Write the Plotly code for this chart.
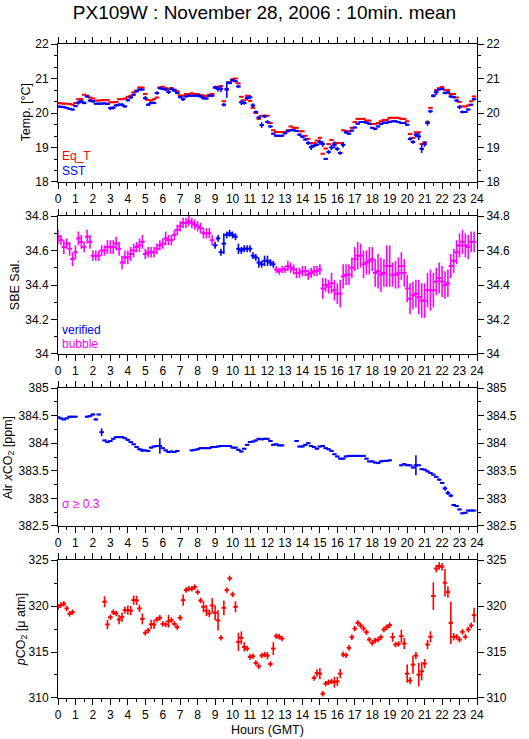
import plotly.graph_objects as go

# ---------------- data (10-minute slots, 0..24 h GMT) ----------------
N_SLOTS = 144
SLOT_H = 1 / 6
HOURS = [k * SLOT_H for k in range(N_SLOTS)]
HOUR_TICKS = list(range(0, 25))

EQ_T = [
    20.29, 20.28, 20.27, 20.27, 20.26, 20.24,
    20.29, 20.40, 20.40, 20.53, 20.50, 20.45,
    20.42, 20.36, 20.36, 20.37, 20.37, 20.38,
    20.31, 20.31, 20.32, 20.40, 20.40, 20.42,
    20.47, 20.50, 20.60, 20.65, 20.74, 20.74,
    20.55, 20.38, 20.36, 20.40, 20.45, 20.74,
    20.76, 20.72, 20.70, 20.72, 20.68, 20.63,
    20.51, 20.50, 20.55, 20.55, 20.57, 20.55,
    20.55, 20.52, 20.50, 20.50, 20.53, 20.55,
    20.74, 20.76, 20.78, 20.34, 20.70, 20.90,
    20.98, 21.00, 20.86, 20.47, 20.37, 20.50,
    20.35, 20.15, 20.00, 19.83, 19.92, 19.92,
    19.92, 19.71, 19.50, 19.45, 19.45, 19.45,
    19.45, 19.50, 19.61, 19.57, 19.57, 19.47,
    19.47, 19.34, 19.25, 19.13, 19.13, 19.20,
    19.28, 18.82, 18.97, 19.10, 19.22, 19.12,
    19.13, 19.13, 19.50, 19.47, 19.47, 19.57,
    19.74, 19.83, 19.83, 19.83, 19.78, 19.78,
    19.68, 19.68, 19.71, 19.76, 19.80, 19.80,
    19.86, 19.86, 19.86, 19.86, 19.83, 19.83,
    19.76, 19.39, 19.28, 19.44, 19.44, 19.10,
    19.15, 19.74, 20.15, 20.50, 20.66, 20.72,
    20.75, 20.67, 20.67, 20.55, 20.55, 20.45,
    20.32, 20.19, 20.19, 20.22, 20.34, 20.48,
]
EQ_T_ERR = 0.015

SST = [
    20.19, 20.18, 20.17, 20.15, 20.12, 20.10,
    20.20, 20.30, 20.34, 20.29, 20.48, 20.36,
    20.34, 20.27, 20.27, 20.27, 20.28, 20.26,
    20.14, 20.15, 20.22, 20.24, 20.24, 20.19,
    20.37, 20.45, 20.53, 20.63, 20.68, 20.68,
    20.43, 20.24, 20.29, 20.29, 20.58, 20.72,
    20.70, 20.68, 20.61, 20.70, 20.65, 20.58,
    20.46, 20.40, 20.48, 20.50, 20.50, 20.50,
    20.50, 20.48, 20.43, 20.42, 20.50, 20.50,
    20.74, 20.70, 20.70, 20.24, 20.68, 20.87,
    20.95, 20.92, 20.77, 20.31, 20.29, 20.43,
    20.46, 20.22, 20.03, 19.87, 19.65, 19.90,
    19.74, 19.61, 19.40, 19.34, 19.34, 19.34,
    19.41, 19.47, 19.50, 19.50, 19.48, 19.37,
    19.31, 19.23, 19.13, 19.01, 19.05, 19.08,
    19.16, 19.10, 18.67, 18.87, 19.00, 19.08,
    18.96, 18.84, 19.08, 19.44, 19.40, 19.49,
    19.58, 19.69, 19.74, 19.74, 19.72, 19.69,
    19.57, 19.54, 19.61, 19.68, 19.72, 19.72,
    19.74, 19.76, 19.76, 19.74, 19.71, 19.71,
    19.66, 19.25, 19.16, 19.37, 19.32, 18.96,
    19.10, 19.71, 20.05, 20.50, 20.60, 20.68,
    20.70, 20.58, 20.60, 20.48, 20.46, 20.36,
    20.17, 20.03, 20.03, 20.10, 20.24, 20.40,
]
SST_ERR = [
    .03, .03, .03, .03, .03, .03,
    .03, .06, .05, .04, .04, .05,
    .04, .03, .03, .03, .03, .03,
    .05, .05, .04, .04, .05, .04,
    .04, .04, .04, .04, .03, .03,
    .06, .04, .04, .04, .05, .04,
    .04, .04, .06, .04, .04, .04,
    .04, .05, .04, .03, .03, .03,
    .03, .04, .05, .04, .04, .03,
    .05, .08, .10, .05, .24, .04,
    .04, .04, .05, .08, .05, .05,
    .06, .06, .04, .05, .08, .05,
    .05, .04, .03, .03, .03, .03,
    .03, .03, .03, .03, .03, .04,
    .04, .04, .06, .08, .05, .04,
    .07, .08, .03, .06, .08, .10,
    .06, .05, .08, .05, .03, .03,
    .03, .03, .03, .03, .03, .03,
    .03, .03, .03, .03, .03, .03,
    .03, .03, .03, .03, .03, .03,
    .03, .05, .05, .08, .10, .12,
    .08, .08, .05, .05, .08, .03,
    .03, .04, .04, .04, .04, .04,
    .06, .04, .03, .03, .03, .04,
]

SAL = [
    34.68, 34.66, 34.62, 34.64, 34.61, 34.55,
    34.59, 34.67, 34.65, 34.62, 34.68, 34.65,
    34.57, 34.57, 34.57, 34.60, 34.60, 34.62,
    34.62, 34.62, 34.64, 34.61, 34.53, 34.56,
    34.56, 34.58, 34.60, 34.62, 34.63, 34.65,
    34.58, 34.59, 34.59, 34.59, 34.61, 34.63,
    34.64, 34.67, 34.66, 34.66, 34.69, 34.72,
    34.74, 34.76, 34.76, 34.77, 34.76, 34.75,
    34.74, 34.73, 34.70, 34.70, 34.70, 34.66,
    34.63, 34.67, 34.59, 34.64, 34.69, 34.70,
    34.69, 34.68, 34.61, 34.60, 34.61, 34.61,
    34.61, 34.57, 34.56, 34.53, 34.52, 34.54,
    34.54, 34.53, 34.52, 34.49, 34.48, 34.49,
    34.49, 34.51, 34.50, 34.49, 34.47, 34.47,
    34.48, 34.48, 34.46, 34.47, 34.48, 34.48,
    34.49, 34.38, 34.40, 34.39, 34.41, 34.37,
    34.35, 34.35, 34.45, 34.46, 34.46, 34.50,
    34.55, 34.57, 34.57, 34.52, 34.53, 34.54,
    34.55, 34.47, 34.48, 34.46, 34.47, 34.51,
    34.51, 34.46, 34.46, 34.47, 34.51, 34.47,
    34.38, 34.32, 34.34, 34.35, 34.33, 34.31,
    34.31, 34.37, 34.37, 34.37, 34.42, 34.44,
    34.42, 34.40, 34.41, 34.51, 34.54, 34.59,
    34.63, 34.65, 34.63, 34.62, 34.65, 34.65,
]
SAL_ERR = [
    .04, .03, .04, .03, .04, .04,
    .04, .04, .04, .03, .04, .04,
    .03, .03, .03, .03, .03, .04,
    .04, .04, .04, .04, .04, .04,
    .04, .04, .04, .03, .04, .04,
    .03, .03, .03, .03, .03, .03,
    .03, .04, .03, .03, .03, .03,
    .03, .03, .03, .03, .03, .03,
    .03, .03, .03, .03, .03, .03,
    .02, .02, .02, .06, .02, .02,
    .02, .02, .03, .02, .02, .02,
    .02, .02, .02, .03, .02, .03,
    .03, .02, .02, .02, .02, .02,
    .02, .03, .03, .03, .03, .03,
    .03, .03, .03, .03, .03, .03,
    .03, .06, .04, .04, .06, .06,
    .06, .08, .07, .06, .06, .06,
    .07, .08, .07, .08, .07, .08,
    .07, .08, .10, .10, .08, .12,
    .12, .07, .08, .09, .08, .08,
    .08, .09, .08, .08, .10, .10,
    .10, .10, .12, .10, .08, .09,
    .09, .08, .08, .07, .07, .07,
    .07, .07, .07, .07, .06, .06,
]
SAL_VERIFIED_SLOTS = range(54, 75)   # 09:00 - 12:20 verified, rest flagged "bubble"

XCO2 = [
    384.47, 384.45, 384.43, 384.45, 384.48, 384.48,
    384.48, None, None, None, 384.48, 384.49,
    384.52, 384.43, 384.52, 384.20, 384.05, 384.02,
    384.04, 384.08, 384.11, 384.11, 384.11, 384.09,
    384.06, 384.02, 383.98, 383.93, 383.89, 383.87,
    383.87, 383.86, 383.92, 383.94, 383.95, 383.95,
    383.91, 383.87, 383.84, 383.85, 383.84, 383.86,
    None, None, None, None, 383.87, 383.88,
    383.89, 383.91, 383.91, 383.91, 383.91, 383.93,
    383.93, 383.94, 383.95, 383.95, 383.95, 383.95,
    383.92, 383.92, 383.88, 383.85, 383.90, 383.97,
    384.02, 384.03, 384.05, 384.08, 384.07, 384.08,
    384.08, 384.04, 383.97, 383.98, 383.96, 383.96,
    None, None, None, None, 384.04, 383.94,
    383.94, 383.97, 384.00, 383.95, 383.93, 383.90,
    383.94, 383.95, 383.91, 383.89, 383.86, 383.80,
    383.76, 383.72, 383.72, 383.76, 383.77, 383.77,
    383.77, 383.77, 383.77, 383.77, 383.72, 383.67,
    383.67, 383.65, 383.64, 383.67, 383.68, 383.68,
    383.69, None, None, None, 383.60, 383.62,
    383.60, 383.60, 383.56, 383.60, 383.60, 383.53,
    383.52, 383.49, 383.46, 383.43, 383.39, 383.34,
    383.28, 383.18, 383.10, 383.05, 382.88, 382.86,
    382.80, 382.73, 382.74, 382.78, 382.78, 382.78,
]
XCO2_ERR = [
    .015, .015, .015, .015, .015, .015,
    .015, 0, 0, 0, .015, .015,
    .02, .02, .015, .07, .015, .015,
    .015, .015, .015, .015, .015, .015,
    .015, .015, .015, .015, .02, .03,
    .015, .015, .015, .015, .015, .14,
    .015, .015, .015, .015, .015, .015,
    0, 0, 0, 0, .015, .015,
    .015, .015, .015, .015, .015, .015,
    .015, .015, .015, .015, .015, .015,
    .015, .015, .02, .02, .015, .015,
    .015, .015, .015, .015, .015, .015,
    .015, .015, .02, .015, .015, .015,
    0, 0, 0, 0, .015, .015,
    .015, .015, .015, .015, .015, .015,
    .015, .015, .015, .015, .015, .015,
    .015, .015, .015, .015, .015, .015,
    .015, .015, .015, .015, .015, .015,
    .015, .015, .015, .015, .015, .015,
    .015, 0, 0, 0, .015, .015,
    .015, .015, .02, .18, .015, .015,
    .015, .015, .015, .015, .015, .02,
    .02, .04, .04, .03, .02, .015,
    .015, .015, .015, .015, .015, .015,
]

PCO2 = [
    319.88, 320.10, 320.24, 319.73, 319.15, 319.33,
    None, None, None, None, None, None,
    None, None, None, None, 320.46, 317.99,
    318.79, 319.33, 319.19, 318.53, 318.80, 319.55,
    319.55, 319.50, 320.64, 320.60, 319.73, 318.60,
    317.08, 317.34, 318.00, 318.00, 318.53, 318.72,
    318.06, 318.00, 318.35, 318.46, 318.06, 317.70,
    318.72, 320.64, 321.73, 321.88, 321.88, 322.06,
    321.51, 320.60, 319.91, 319.50, 319.19, 320.06,
    319.26, 318.43, 316.54, 319.80, 321.73, 323.00,
    321.26, 319.91, 316.10, 316.54, 315.56, 315.37,
    314.47, 314.54, 313.81, 313.45, 314.61, 314.72,
    314.61, 313.70, 315.37, 316.72, 316.65, 316.46,
    None, None, None, None, None, None,
    None, None, None, None, 312.18, 312.72,
    312.65, 310.47, 311.56, 311.71, 311.81, 311.71,
    311.81, 312.65, 314.72, 314.65, 315.45, 316.61,
    317.55, 318.17, 317.88, 317.55, 317.15, 316.35,
    315.99, 316.25, 316.35, 316.61, 317.44, 317.70,
    317.92, 316.61, 315.81, 315.88, 316.72, 315.92,
    312.65, 311.89, 313.63, 314.61, 312.54, 312.90,
    313.74, 315.81, 316.65, 321.08, 324.06, 324.35,
    324.27, 322.53, 321.51, 318.17, 316.65, 316.65,
    316.35, 317.19, 316.65, 317.44, 317.88, 319.00,
]
PCO2_ERR = [
    .3, .3, .3, .3, .3, .3,
    0, 0, 0, 0, 0, 0,
    0, 0, 0, 0, .6, .5,
    .3, .3, .3, .5, .5, .4,
    .5, .5, .5, .5, .4, .6,
    .3, .3, .5, .5, .3, .3,
    .3, .3, .7, .3, .3, .3,
    .3, .6, .3, .3, .3, .3,
    .3, .3, .6, .6, .4, .8,
    .8, 1.1, .3, .8, .3, .3,
    .3, .6, 1.0, .7, .5, .3,
    .3, .3, .3, .3, .3, .3,
    .4, .3, .7, .3, .3, .3,
    0, 0, 0, 0, 0, 0,
    0, 0, 0, 0, .3, .4,
    .6, .3, .3, .3, .3, .6,
    .5, .5, .3, .3, .3, .3,
    .3, .3, .3, .3, .3, .3,
    .3, .3, .3, .3, .3, .3,
    .3, .5, .3, .3, .7, .6,
    1.0, .4, 1.0, .4, 1.3, 1.0,
    .5, .5, .6, 1.5, .4, .4,
    .4, 1.5, .6, 2.3, .4, .3,
    .3, .3, .3, .3, .3, .8,
]

TEMP_TICKS = [18, 19, 20, 21, 22]
SAL_TICKS = [34.0, 34.2, 34.4, 34.6, 34.8]
SAL_TICK_TEXT = ["34", "34.2", "34.4", "34.6", "34.8"]
XCO2_TICKS = [382.5, 383.0, 383.5, 384.0, 384.5, 385.0]
XCO2_TICK_TEXT = ["382.5", "383", "383.5", "384", "384.5", "385"]
PCO2_TICKS = [310, 315, 320, 325]

# ---------------- styling ----------------
RED = "#ff0000"
BLUE = "#0000ff"
MAGENTA = "#ff00ff"
FONT = "Liberation Sans, Arial, Helvetica, sans-serif"
HALF_BAR = 0.13      # half length of the horizontal bar of each cross, hours
V_W = 1.6
H_W = 2

fig = go.Figure()


def crosses(x, y, err, color, panel):
    xa = "x" if panel == 1 else f"x{panel}"
    ya = "y" if panel == 1 else f"y{panel}"
    err_kw = dict(type="data", array=err) if isinstance(err, list) else dict(type="constant", value=err)
    fig.add_trace(go.Scatter(
        x=x, y=y, mode="markers", xaxis=xa, yaxis=ya,
        marker=dict(size=2, color=color, opacity=0, line=dict(width=0)),
        error_y=dict(color=color, thickness=V_W, width=0, **err_kw),
        error_x=dict(type="constant", value=HALF_BAR, color=color, thickness=H_W, width=0),
        showlegend=False, hoverinfo="skip",
    ))


crosses(HOURS, EQ_T, EQ_T_ERR, RED, 1)
crosses(HOURS, SST, SST_ERR, BLUE, 1)

sal_ver = [v if k in SAL_VERIFIED_SLOTS else None for k, v in enumerate(SAL)]
sal_bub = [None if k in SAL_VERIFIED_SLOTS else v for k, v in enumerate(SAL)]
crosses(HOURS, sal_bub, SAL_ERR, MAGENTA, 2)
crosses(HOURS, sal_ver, SAL_ERR, BLUE, 2)

crosses(HOURS, XCO2, XCO2_ERR, BLUE, 3)
crosses(HOURS, PCO2, PCO2_ERR, RED, 4)

# panel vertical domains (paper fractions)
DOMAINS = {1: [0.789, 1.0], 2: [0.526, 0.737], 3: [0.263, 0.474], 4: [0.0, 0.211]}

tickfont = dict(family=FONT, size=12, color="black")
axis_common = dict(showline=True, linecolor="black", linewidth=1, ticks="outside",
                   tickcolor="black", tickwidth=1, ticklen=6, showgrid=False,
                   zeroline=False, tickfont=tickfont)

Y_SPECS = {
    1: dict(range=[18, 22], tickvals=TEMP_TICKS, ticktext=[str(t) for t in TEMP_TICKS], minor=1 / 3),
    2: dict(range=[34.0, 34.8], tickvals=SAL_TICKS, ticktext=SAL_TICK_TEXT, minor=0.1),
    3: dict(range=[382.5, 385.0], tickvals=XCO2_TICKS, ticktext=XCO2_TICK_TEXT, minor=0.25),
    4: dict(range=[310, 325], tickvals=PCO2_TICKS, ticktext=[str(t) for t in PCO2_TICKS], minor=2.5),
}

layout = {}
for p in range(1, 5):
    xk = "xaxis" if p == 1 else f"xaxis{p}"
    yk = "yaxis" if p == 1 else f"yaxis{p}"
    ya = "y" if p == 1 else f"y{p}"
    xa = "x" if p == 1 else f"x{p}"
    layout[xk] = dict(domain=[0, 1], range=[0, 24], anchor=ya, tickmode="array",
                      tickvals=HOUR_TICKS, ticktext=[str(h) for h in HOUR_TICKS],
                      mirror="ticks",
                      minor=dict(dtick=0.5, tick0=0, ticks="outside", ticklen=3,
                                 tickcolor="black", tickwidth=1, showgrid=False),
                      **axis_common)
    s = Y_SPECS[p]
    ymin = dict(dtick=s["minor"], tick0=s["range"][0], ticks="outside", ticklen=3,
                tickcolor="black", tickwidth=1, showgrid=False)
    layout[yk] = dict(domain=DOMAINS[p], range=s["range"], anchor=xa, tickmode="array",
                      tickvals=s["tickvals"], ticktext=s["ticktext"], mirror=True,
                      minor=ymin, **axis_common)
    rk = f"yaxis{p + 4}"
    layout[rk] = dict(overlaying=ya, side="right", anchor=xa, range=s["range"],
                      tickmode="array", tickvals=s["tickvals"], ticktext=s["ticktext"],
                      minor=ymin, **axis_common)

fig.update_layout(**layout)

# right-side overlay axes need a (hidden) trace each to be drawn
for p in range(1, 5):
    fig.add_trace(go.Scatter(x=[None], y=[None], xaxis="x" if p == 1 else f"x{p}",
                             yaxis=f"y{p + 4}", showlegend=False, hoverinfo="skip"))

ann = []
def txt(x, y, text, color="black", size=12, angle=0, xanchor="left", yanchor="middle"):
    ann.append(dict(x=x, y=y, xref="paper", yref="paper", text=text, showarrow=False,
                    textangle=angle, xanchor=xanchor, yanchor=yanchor,
                    font=dict(family=FONT, size=size, color=color)))

# in-panel legends
txt(0.005, 0.828, "Eq_T", RED, 12)
txt(0.005, 0.806, "SST", BLUE, 12)
txt(0.005, 0.562, "verified", BLUE, 12)
txt(0.005, 0.541, "bubble", MAGENTA, 12)
txt(0.005, 0.297, "σ ≥ 0.3", MAGENTA, 12)

# y-axis titles
txt(-0.077, 0.895, "Temp. [°C]", size=12.5, angle=-90, xanchor="center")
txt(-0.103, 0.631, "SBE Sal.", size=12.5, angle=-90, xanchor="center")
txt(-0.117, 0.368, "Air <i>x</i>CO<sub>2</sub> [ppm]", size=12.5, angle=-90, xanchor="center")
txt(-0.086, 0.105, "<i>p</i>CO<sub>2</sub> [μ atm]", size=12.5, angle=-90, xanchor="center")

# x-axis title
txt(0.5, -0.049, "Hours (GMT)", size=12.5, xanchor="center")

fig.update_layout(
    annotations=ann,
    width=529, height=739,
    margin=dict(l=58, r=44, t=44, b=41, pad=0),
    paper_bgcolor="white", plot_bgcolor="white",
    title=dict(text="PX109W : November 28, 2006 : 10min. mean", x=0.5, xref="container",
               y=0.983, yref="container", yanchor="middle",
               font=dict(family=FONT, size=19, color="black")),
    font=dict(family=FONT, color="black"),
    showlegend=False,
)

fig.write_html("out.html", config={"displayModeBar": False},
               post_script="document.body.style.margin='0';document.body.style.padding='0';")
